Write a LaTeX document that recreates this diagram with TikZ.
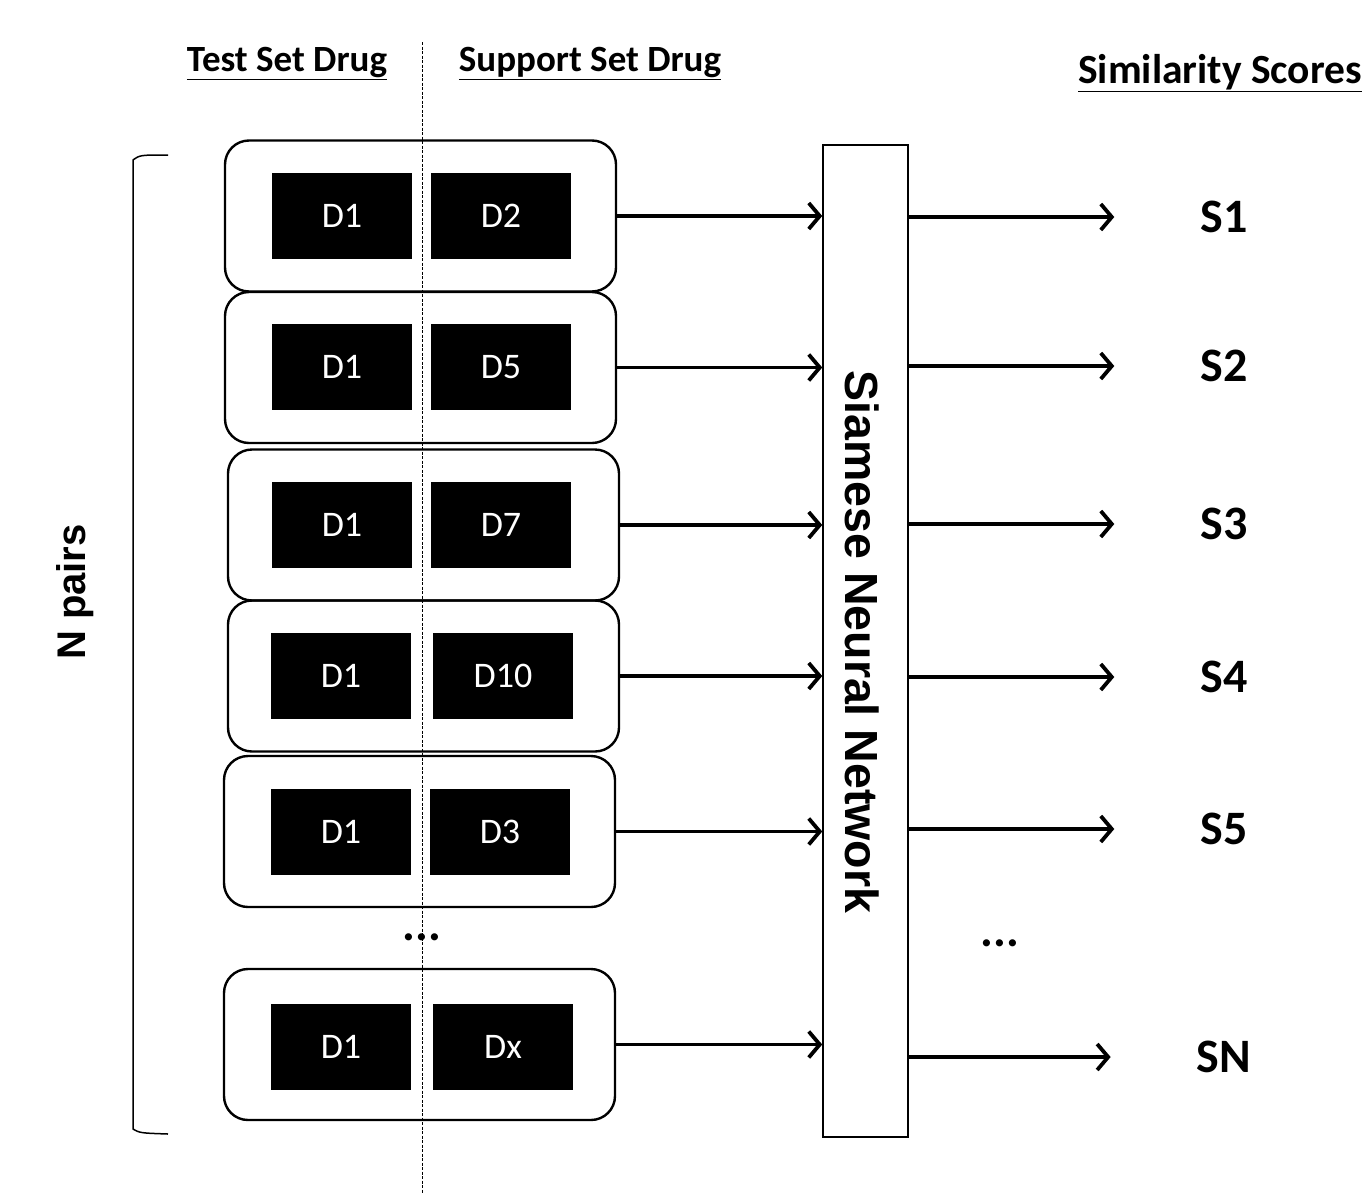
\documentclass[tikz,border=0pt]{standalone}
\usepackage{fontspec}
\setmainfont{Carlito}
\newfontfamily\arialish{Liberation Sans}
\usetikzlibrary{arrows.meta}
\begin{document}
\begin{tikzpicture}[x=1pt,y=-1pt,
  pair/.style={draw, line width=2.4pt, rounded corners=24pt, minimum width=391pt, minimum height=151pt, inner sep=0pt},
  drug/.style={fill=black, text=white, minimum width=140pt, minimum height=86pt, inner sep=0pt, font=\fontsize{36}{40}\selectfont},
  feed/.style={line width=3.6pt, -{Straight Barb[length=11pt,width=26pt,line width=3.8pt]}},
  score/.style={inner sep=0pt, font=\bfseries\fontsize{48}{56}\selectfont},
  header/.style={inner sep=0pt, font=\bfseries\fontsize{37}{44}\selectfont},
  split/.style={line width=1pt, dash pattern=on 3pt off 1.5pt}]
\useasboundingbox (0,0) rectangle (1367,1194);

% column headers
\node[header] (hTest) at (287,64) {\underline{Test Set Drug}};
\node[header] (hSupp) at (590,64) {\underline{Support Set Drug}};
\node[header, anchor=west, font=\bfseries\fontsize{41.5}{50}\selectfont] (hSim) at (1078,73) {\underline{Similarity Scores}};

% pair containers
\node[pair] (p1) at (420.5,216) {};
\node[pair] (p2) at (420.5,367.5) {};
\node[pair] (p3) at (423.5,525) {};
\node[pair] (p4) at (423.5,676) {};
\node[pair] (p5) at (419.5,831.5) {};
\node[pair] (p6) at (419.5,1044.5) {};

% drug pairs
\node[drug] (a1) at (342,216) {D1};  \node[drug] (b1) at (501,216) {D2};
\node[drug] (a2) at (342,367) {D1};  \node[drug] (b2) at (501,367) {D5};
\node[drug] (a3) at (342,525) {D1};  \node[drug] (b3) at (501,525) {D7};
\node[drug] (a4) at (341,676) {D1};  \node[drug] (b4) at (503,676) {D10};
\node[drug] (a5) at (341,832) {D1};  \node[drug] (b5) at (500,832) {D3};
\node[drug] (a6) at (341,1047) {D1}; \node[drug] (b6) at (503,1047) {Dx};

% dividing line between test and support drugs
\coordinate (dTop) at (422,42);
\coordinate (dBot) at (422,1194);
\draw[split] (dTop) -- (dBot);

\node[score] (dotsL) at (422,937) {...};

% network block
\node[draw, line width=1.5pt, minimum width=85pt, minimum height=992pt, inner sep=0pt] (snn) at (865.5,641) {};
\node[rotate=-90, inner sep=0pt, font=\arialish\bfseries\fontsize{46.5}{54}\selectfont] (snnText) at (862,642) {Siamese Neural Network};

% scores
\node[score] (s1) at (1224,217) {S1};
\node[score] (s2) at (1224,366) {S2};
\node[score] (s3) at (1224,524) {S3};
\node[score] (s4) at (1224,677) {S4};
\node[score] (s5) at (1224,829) {S5};
\node[score] (sN) at (1224,1057) {SN};
\node[score] (dotsR) at (1000,943) {...};

% pairs into the network
\foreach \i in {1,...,6}
  \draw[feed] (p\i.east) -- (p\i.east -| snn.west);

% network to scores
\foreach \s in {s1,s2,s3,s4,s5,sN}
  \draw[feed] (snn.east |- \s) -- ([xshift=-86pt]\s.west);

% brace spanning all pairs
\coordinate (bTop) at (168,155);
\coordinate (bBot) at (168,1134);
\draw[line width=1.5pt] (bTop) .. controls (140,155) .. (133,160) -- (133,1129) .. controls (140,1133) .. (bBot);
\node[rotate=90, inner sep=0pt, font=\arialish\bfseries\fontsize{40}{48}\selectfont] (npairs) at (75,592) {N pairs};
\end{tikzpicture}
\end{document}
